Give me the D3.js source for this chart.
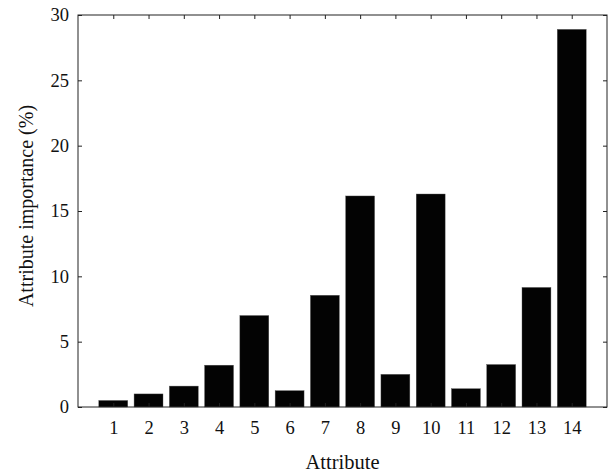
<!DOCTYPE html>
<html>
<head>
<meta charset="utf-8">
<script src="https://cdn.jsdelivr.net/npm/d3@7"></script>
<style>
body{margin:0;background:#fff;}
</style>
</head>
<body>
<svg id="c" width="609" height="472"></svg>
<script>
const categories = [1,2,3,4,5,6,7,8,9,10,11,12,13,14];
const importance = [0.5,1.0,1.6,3.2,7.0,1.25,8.55,16.15,2.5,16.3,1.4,3.25,9.15,28.9];
const yTicks = [0,5,10,15,20,25,30];

(function(){
const FONT = '"Liberation Serif"';
const svg = d3.select("#c");
const m = {l:78, r:2, t:15, b:65};
const W = 609, H = 472;
const x = d3.scaleLinear().domain([0,15]).range([m.l, W-m.r]);
const y = d3.scaleLinear().domain([0,30]).range([H-m.b, m.t]);
const step = x(1)-x(0);
const bw = step*0.82;

// bars
svg.append("g").selectAll("rect").data(categories).join("rect")
  .attr("x", (d)=>x(d)-bw/2)
  .attr("width", bw)
  .attr("y", (d,i)=>y(importance[i]))
  .attr("height", (d,i)=>y(0)-y(importance[i]))
  .attr("fill","#030303")
  .attr("stroke","#555").attr("stroke-width",0.4);

// frame
svg.append("rect").attr("x",x(0)).attr("y",y(30)).attr("width",x(15)-x(0)).attr("height",y(0)-y(30))
  .attr("fill","none").attr("stroke","#222").attr("stroke-width",1);

// axes
const gLeft = svg.append("g").attr("transform",`translate(${x(0)},0)`)
  .call(d3.axisLeft(y).tickValues(yTicks).tickSize(-4).tickPadding(9).tickFormat(d3.format("d")));
const gRight = svg.append("g").attr("transform",`translate(${x(15)},0)`)
  .call(d3.axisRight(y).tickValues(yTicks).tickSize(-4).tickFormat(""));
const gBottom = svg.append("g").attr("transform",`translate(0,${y(0)})`)
  .call(d3.axisBottom(x).tickValues(categories).tickSize(-4).tickPadding(14).tickFormat(d3.format("d")));
const gTop = svg.append("g").attr("transform",`translate(0,${y(30)})`)
  .call(d3.axisTop(x).tickValues(categories).tickSize(-4).tickFormat(""));
[gLeft,gRight,gBottom,gTop].forEach(g=>{
  g.attr("font-family",FONT).attr("font-size",18);
  g.select(".domain").remove();
  g.selectAll(".tick line").attr("stroke","#222");
  g.selectAll("text").attr("fill","#111").style("font-family",FONT).style("font-size","18.5px");
});

svg.append("text").attr("x",(x(0)+x(15))/2).attr("y",469).attr("text-anchor","middle")
  .attr("fill","#111").style("font-family",FONT).style("font-size","20.5px").text("Attribute");
svg.append("text").attr("transform",`translate(33,206) rotate(-90)`).attr("text-anchor","middle")
  .attr("fill","#111").style("font-family",FONT).style("font-size","20px").text("Attribute importance (%)");
})();
</script>
</body>
</html>
